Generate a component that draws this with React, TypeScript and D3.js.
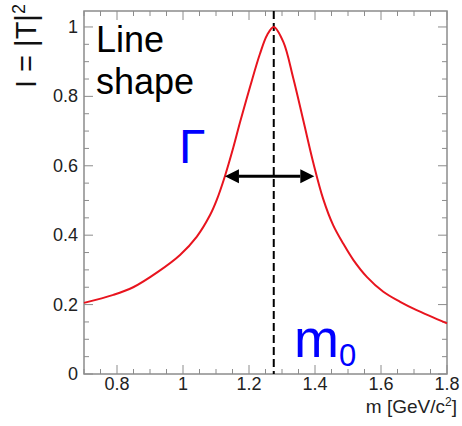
import React from "react";
import * as d3 from "d3";

// line shape: mass [GeV/c^2] and intensity
const massValues = [
  0.7, 0.789, 0.849, 0.925, 0.991, 1.042, 1.082, 1.102, 1.127, 1.152, 1.173, 1.203, 1.233, 1.255,
  1.275, 1.304, 1.334, 1.365, 1.395, 1.425, 1.455, 1.486, 1.516, 1.557, 1.607, 1.658, 1.708, 1.8,
];
const intensityValues = [
  0.205, 0.228, 0.25, 0.295, 0.343, 0.396, 0.458, 0.501, 0.57, 0.651, 0.726, 0.827, 0.922, 0.977,
  1.0, 0.957, 0.853, 0.729, 0.608, 0.504, 0.429, 0.375, 0.329, 0.28, 0.237, 0.208, 0.184, 0.146,
];

const xTickLabels = [0.8, 1, 1.2, 1.4, 1.6, 1.8];
const yTickLabels = [0, 0.2, 0.4, 0.6, 0.8, 1];

const peakMass = 1.275;
const widthLevel = 0.57;
const widthEdges = [1.127, 1.398];

const W = 462;
const H = 426;
const left = 84;
const right = 447;
const top = 11;
const bottom = 374;

const axisGray = "#8c8c8c";
const font = "'Liberation Sans', Arial, sans-serif";

export default function App() {
  const x = d3.scaleLinear().domain([0.7, 1.8]).range([left, right]);
  const y = d3.scaleLinear().domain([0, 1.046]).range([bottom, top]);

  const points: [number, number][] = massValues.map((m, i) => [m, intensityValues[i]]);
  const path = d3
    .line<[number, number]>()
    .x((d) => x(d[0]))
    .y((d) => y(d[1]))
    .curve(d3.curveCatmullRom.alpha(0.5))(points);

  const xMinor = d3.range(0.7, 1.8001, 0.05);
  const yMinor = d3.range(0, 1.0401, 0.05);

  const ay = y(widthLevel);
  const ax0 = x(widthEdges[0]);
  const ax1 = x(widthEdges[1]);
  const head = 14;

  return (
    <svg
      width={W}
      height={H}
      style={{ position: "absolute", left: 0, top: 0, background: "#fff" }}
      fontFamily={font}
    >
      {/* frame */}
      <rect x={left} y={top} width={right - left} height={bottom - top} fill="none" stroke={axisGray} strokeWidth={1.5} />

      {/* ticks on all four sides */}
      {xMinor.map((v, i) => {
        const major = xTickLabels.some((t) => Math.abs(t - v) < 1e-6);
        const len = major ? 9 : 5;
        return (
          <g key={"xt" + i} stroke={axisGray} strokeWidth={1}>
            <line x1={x(v)} x2={x(v)} y1={bottom} y2={bottom - len} />
            <line x1={x(v)} x2={x(v)} y1={top} y2={top + len} />
          </g>
        );
      })}
      {yMinor.map((v, i) => {
        const major = yTickLabels.some((t) => Math.abs(t - v) < 1e-6);
        const len = major ? 9 : 5;
        return (
          <g key={"yt" + i} stroke={axisGray} strokeWidth={1}>
            <line x1={left} x2={left + len} y1={y(v)} y2={y(v)} />
            <line x1={right} x2={right - len} y1={y(v)} y2={y(v)} />
          </g>
        );
      })}

      {/* tick labels */}
      {xTickLabels.map((v) => (
        <text key={"xl" + v} x={x(v)} y={bottom + 16} textAnchor="middle" fontSize={18} fill="#222">
          {v}
        </text>
      ))}
      {yTickLabels.map((v) => (
        <text key={"yl" + v} x={left - 6} y={y(v) + 6} textAnchor="end" fontSize={18} fill="#222">
          {v}
        </text>
      ))}

      {/* axis titles */}
      <text x={457} y={413} textAnchor="end" fontSize={19} fill="#222">
        m [GeV/c<tspan dy={-7} fontSize={12}>2</tspan>
        <tspan dy={7}>]</tspan>
      </text>
      <text transform="translate(36,88) rotate(-90)" fontSize={29} fill="#111">
        I = |T|<tspan dy={-11} fontSize={18}>2</tspan>
      </text>

      {/* dashed m0 line */}
      <line x1={x(peakMass)} x2={x(peakMass)} y1={top} y2={bottom} stroke="#000" strokeWidth={2} strokeDasharray="8,4" />

      {/* curve */}
      <path d={path ?? ""} fill="none" stroke="#e8141e" strokeWidth={2} />

      {/* width arrow */}
      <line x1={ax0 + head} x2={ax1 - head} y1={ay} y2={ay} stroke="#000" strokeWidth={3} />
      <polygon points={`${ax0},${ay} ${ax0 + head},${ay - 7} ${ax0 + head},${ay + 7}`} fill="#000" />
      <polygon points={`${ax1},${ay} ${ax1 - head},${ay - 7} ${ax1 - head},${ay + 7}`} fill="#000" />

      {/* annotations */}
      <text x={96} y={52} fontSize={36} fill="#000">Line</text>
      <text x={96} y={94} fontSize={36} fill="#000">shape</text>
      <text x={179} y={163} fontSize={48} fill="#0000ff">Γ</text>
      <text x={294} y={357} fontSize={54} fill="#0000ff">
        m<tspan fontSize={31} dy={9}>0</tspan>
      </text>
    </svg>
  );
}
